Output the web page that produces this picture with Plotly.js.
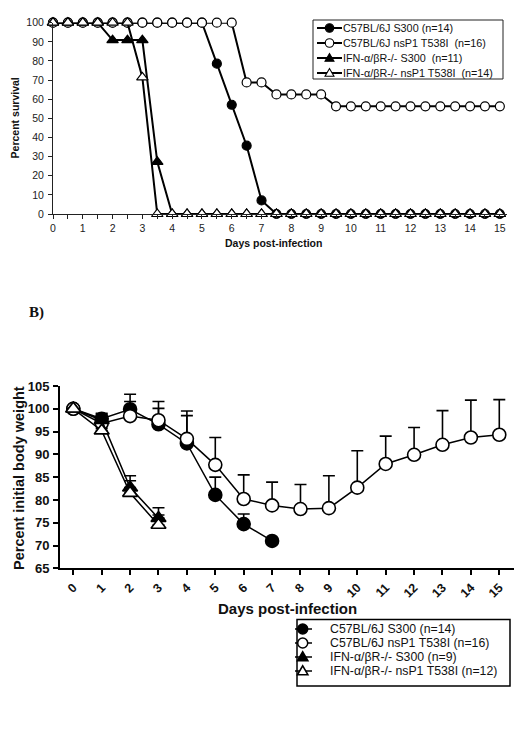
<!DOCTYPE html>
<html>
<head>
<meta charset="utf-8">
<script src="https://cdn.plot.ly/plotly-3.0.1.min.js"></script>
<style>
  html, body { margin: 0; padding: 0; background: #fff; }
  #chart { width: 516px; height: 736px; }
</style>
</head>
<body>
<div id="chart"></div>
<script>
// ---------- Panel A: survival (%), scored every half day ----------
const survivalDays = [0, 0.5, 1, 1.5, 2, 2.5, 3, 3.5, 4, 4.5, 5, 5.5, 6, 6.5, 7, 7.5,
                      8, 8.5, 9, 9.5, 10, 10.5, 11, 11.5, 12, 12.5, 13, 13.5, 14, 14.5, 15];
const survB6S300 = [100, 100, 100, 100, 100, 100, 100, 100, 100, 100, 100, 78.6, 57.1, 35.7, 7.1, 0,
                    0, 0, 0, 0, 0, 0, 0, 0, 0, 0, 0, 0, 0, 0, 0];
const survB6T538I = [100, 100, 100, 100, 100, 100, 100, 100, 100, 100, 100, 100, 100, 68.8, 68.8, 62.5,
                     62.5, 62.5, 62.5, 56.3, 56.3, 56.3, 56.3, 56.3, 56.3, 56.3, 56.3, 56.3, 56.3, 56.3, 56.3];
const survIfnS300 = [100, 100, 100, 100, 90.9, 90.9, 90.9, 27.3, 0, 0, 0, 0, 0, 0, 0, 0,
                     0, 0, 0, 0, 0, 0, 0, 0, 0, 0, 0, 0, 0, 0, 0];
const survIfnT538I = [100, 100, 100, 100, 100, 100, 71.4, 0, 0, 0, 0, 0, 0, 0, 0, 0,
                      0, 0, 0, 0, 0, 0, 0, 0, 0, 0, 0, 0, 0, 0, 0];
const survivalLegend = [
  "C57BL/6J S300 (n=14)",
  "C57BL/6J nsP1 T538I\u00a0 (n=16)",
  "IFN-\u03b1/\u03b2R-/- S300\u00a0 (n=11)",
  "IFN-\u03b1/\u03b2R-/- nsP1 T538I\u00a0 (n=14)"
];

// ---------- Panel B: body weight (% of day 0), mean with upper SEM ----------
const weightDaysLong = [0, 1, 2, 3, 4, 5, 6, 7, 8, 9, 10, 11, 12, 13, 14, 15];
const weightDaysB6S300 = [0, 1, 2, 3, 4, 5, 6, 7];
const weightDaysIfn = [0, 1, 2, 3];
const weightB6S300 = [100, 97.8, 99.9, 96.6, 92.4, 81.1, 74.7, 71.0];
const semB6S300 = [0, 1.0, 3.3, 3.5, 6.1, 3.9, 2.2, 0];
const weightB6T538I = [100, 96.8, 98.4, 97.5, 93.4, 87.7, 80.2, 78.8, 78.0, 78.2, 82.7, 87.9, 89.9, 92.1, 93.7, 94.3];
const semB6T538I = [0, 0.5, 3.2, 4.1, 6.1, 6.0, 5.3, 5.1, 5.4, 7.1, 8.1, 6.1, 6.0, 7.5, 8.2, 7.7];
const weightIfnS300 = [100, 97.5, 82.7, 76.0];
const semIfnS300 = [0, 1.5, 2.6, 2.3];
const weightIfnT538I = [100, 95.2, 81.5, 74.5];
const semIfnT538I = [0, 0.5, 2.7, 2.2];
const weightLegend = [
  "C57BL/6J S300 (n=14)",
  "C57BL/6J nsP1 T538I (n=16)",
  "IFN-\u03b1/\u03b2R-/- S300 (n=9)",
  "IFN-\u03b1/\u03b2R-/- nsP1 T538I (n=12)"
];

// ---------- styling ----------
const W = 516, H = 736;
const px = v => v / W;            // page pixel -> paper x
const py = v => 1 - v / H;        // page pixel -> paper y
const INK = "#111";
const SANS = "Liberation Sans, Arial, sans-serif";
const groupStyle = [
  { symbol: "circle", filled: true },
  { symbol: "circle", filled: false },
  { symbol: "triangle-up", filled: true },
  { symbol: "triangle-up", filled: false }
];

function survivalTrace(values, g) {
  const st = groupStyle[g];
  return {
    x: survivalDays, y: values, xaxis: "x", yaxis: "y",
    type: "scatter", mode: "lines+markers", cliponaxis: false,
    line: { color: "#000", width: 2 },
    marker: {
      symbol: st.symbol, size: st.symbol === "circle" ? 9 : 10,
      color: st.filled ? "#000" : "#fff",
      line: { color: "#000", width: 1.2 }
    },
    hoverinfo: "x+y"
  };
}

function weightTrace(days, values, sem, g) {
  const st = groupStyle[g];
  return {
    x: days, y: values, xaxis: "x2", yaxis: "y2",
    type: "scatter", mode: "lines+markers", cliponaxis: false,
    line: { color: "#000", width: 1.5 },
    marker: {
      symbol: st.symbol, size: 13,
      color: st.filled ? "#000" : "#fff",
      line: { color: "#000", width: 1.6 }
    },
    error_y: {
      type: "data", symmetric: false, array: sem, arrayminus: sem.map(() => 0),
      color: "#000", thickness: 1.6, width: 6
    },
    hoverinfo: "x+y"
  };
}

const traces = [
  survivalTrace(survB6S300, 0),
  survivalTrace(survB6T538I, 1),
  survivalTrace(survIfnS300, 2),
  survivalTrace(survIfnT538I, 3),
  weightTrace(weightDaysB6S300, weightB6S300, semB6S300, 0),
  weightTrace(weightDaysLong, weightB6T538I, semB6T538I, 1),
  weightTrace(weightDaysIfn, weightIfnS300, semIfnS300, 2),
  weightTrace(weightDaysIfn, weightIfnT538I, semIfnT538I, 3)
];

// ---------- hand-built legend keys (box, line stub, marker) ----------
const shapes = [];
const annotations = [];

function legendKey(cx, cy, x0, x1, size, g, lw, mlw) {
  const st = groupStyle[g];
  shapes.push({ type: "line", xref: "paper", yref: "paper",
    x0: px(x0), x1: px(x1), y0: py(cy), y1: py(cy), line: { color: "#000", width: lw } });
  const fill = st.filled ? "#000" : "#fff";
  const r = size / 2;
  if (st.symbol === "circle") {
    shapes.push({ type: "circle", xref: "paper", yref: "paper",
      x0: px(cx - r), x1: px(cx + r), y0: py(cy + r), y1: py(cy - r),
      fillcolor: fill, line: { color: "#000", width: mlw } });
  } else {
    const p = [[cx, cy - r * 1.05], [cx - r * 1.05, cy + r * 0.75], [cx + r * 1.05, cy + r * 0.75]];
    const path = "M" + p.map(q => px(q[0]) + "," + py(q[1])).join(" L") + " Z";
    shapes.push({ type: "path", xref: "paper", yref: "paper", path: path,
      fillcolor: fill, line: { color: "#000", width: mlw } });
  }
}

function legendText(x, y, text, size) {
  annotations.push({ xref: "paper", yref: "paper", x: px(x), y: py(y),
    xanchor: "left", yanchor: "middle", showarrow: false, text: text,
    font: { family: SANS, size: size, color: INK } });
}

// Panel A legend
shapes.push({ type: "rect", xref: "paper", yref: "paper",
  x0: px(313), x1: px(503), y0: py(79), y1: py(20),
  line: { color: "#222", width: 1 }, fillcolor: "#fff" });
[28, 43, 58, 73].forEach((y, i) => {
  legendKey(329.5, y, 317, 342, 8.5, i, 2, 1.1);
  legendText(341, y, survivalLegend[i], 10.8);
});

// Panel B legend
shapes.push({ type: "rect", xref: "paper", yref: "paper",
  x0: px(297), x1: px(510), y0: py(686), y1: py(619.5),
  line: { color: "#000", width: 1.5 }, fillcolor: "#fff" });
[629, 643, 657, 671].forEach((y, i) => {
  legendKey(302.7, y, 295, 312, 10, i, 1.5, 1.5);
  legendText(328, y, weightLegend[i], 12.3);
});

// ---------- titles and panel label ----------
function label(x, y, text, size, angle, family, anchor) {
  annotations.push({ xref: "paper", yref: "paper", x: px(x), y: py(y),
    xanchor: anchor || "center", yanchor: "middle", showarrow: false,
    text: "<b>" + text + "</b>", textangle: angle || 0,
    font: { family: family || SANS, size: size, color: INK } });
}
label(15, 118.4, "Percent survival", 10.5, -90);
label(273, 243, "Days post-infection", 10.5, 0);
label(27, 312, "B)", 15, 0, "Liberation Serif, Times New Roman, serif", "left");
label(19, 478, "Percent initial body weight", 14.5, -90);
label(287.5, 608, "Days post-infection", 15, 0);

// ---------- layout ----------
const axisBase = {
  showgrid: false, zeroline: false, showline: true, ticks: "outside",
  fixedrange: true
};

const layout = {
  width: W, height: H,
  margin: { l: 0, r: 0, t: 0, b: 0 },
  paper_bgcolor: "#fff", plot_bgcolor: "rgba(0,0,0,0)",
  showlegend: false,
  font: { family: SANS, color: INK },
  xaxis: Object.assign({}, axisBase, {
    domain: [px(53), px(507)], range: [0, 15.24], anchor: "y",
    tickmode: "linear", tick0: 0, dtick: 1,
    ticklen: 4, tickwidth: 1, tickcolor: "#222", linecolor: "#222", linewidth: 1,
    minor: { tickmode: "linear", tick0: 0, dtick: 0.5, ticks: "outside", ticklen: 4, tickwidth: 1, tickcolor: "#222" },
    tickfont: { family: SANS, size: 10.5, color: "#222" }
  }),
  yaxis: Object.assign({}, axisBase, {
    domain: [py(214), py(22.7)], range: [0, 100], anchor: "x",
    tickmode: "linear", tick0: 0, dtick: 10,
    ticklen: 4, tickwidth: 1, tickcolor: "#222", linecolor: "#222", linewidth: 1,
    ticklabelstandoff: 2,
    tickfont: { family: SANS, size: 10.5, color: "#222" }
  }),
  xaxis2: Object.assign({}, axisBase, {
    domain: [px(60), px(514)], range: [-0.468, 15.518], anchor: "y2",
    tickmode: "linear", tick0: 0, dtick: 1, tickangle: -45,
    ticklen: 5, tickwidth: 2, tickcolor: "#000", linecolor: "#000", linewidth: 2,
    tickfont: { family: SANS, size: 12.5, color: INK, weight: "bold" }
  }),
  yaxis2: Object.assign({}, axisBase, {
    domain: [py(568.3), py(386)], range: [65, 105], anchor: "x2",
    tickmode: "linear", tick0: 65, dtick: 5,
    ticklen: 5, tickwidth: 2, tickcolor: "#000", linecolor: "#000", linewidth: 2,
    ticklabelstandoff: 1,
    tickfont: { family: SANS, size: 13, color: INK, weight: "bold" }
  }),
  shapes: shapes,
  annotations: annotations
};

Plotly.newPlot("chart", traces, layout, { staticPlot: true, displayModeBar: false });
</script>
</body>
</html>
